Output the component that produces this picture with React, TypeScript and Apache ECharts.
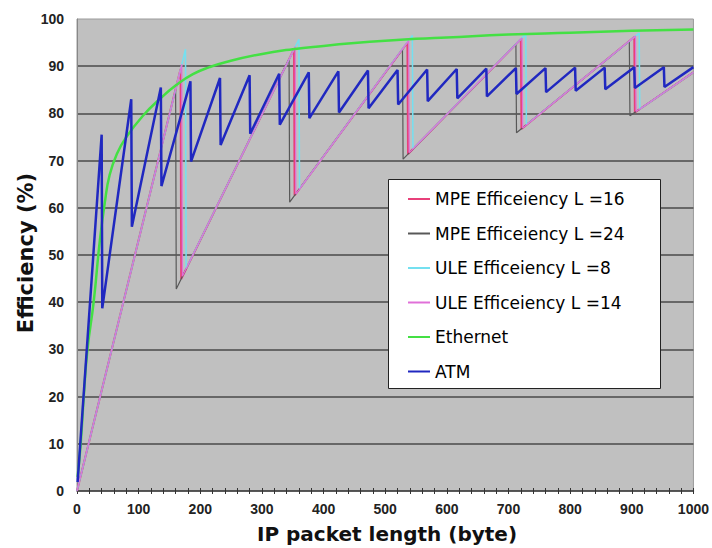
import React, { useEffect, useRef } from 'react';
import * as echarts from 'echarts';

// Series values: [IP packet length (byte), efficiency (%)]
const mpe16: [number, number][] = [
  [0, 0], [168, 89.4], [169, 44.9], [352, 93.6], [353, 62.6], [536, 95.0], [537, 71.4],
  [720, 95.7], [721, 76.7], [904, 96.2], [905, 80.2], [1000, 88.7],
];
const mpe24: [number, number][] = [
  [0, 0], [160, 85.1], [161, 42.8], [344, 91.5], [345, 61.2], [528, 93.6], [529, 70.3],
  [712, 94.7], [713, 75.9], [896, 95.3], [897, 79.5], [1000, 88.7],
];
const ule8: [number, number][] = [
  [0, 0], [176, 93.6], [177, 47.1], [360, 95.7], [361, 64.0], [544, 96.5], [545, 72.5],
  [728, 96.8], [729, 77.6], [912, 97.0], [913, 80.9], [1000, 88.7],
];
const ule14: [number, number][] = [
  [0, 0], [170, 90.4], [171, 45.5], [354, 94.1], [355, 62.9], [538, 95.4], [539, 71.7],
  [722, 96.0], [723, 76.9], [906, 96.4], [907, 80.4], [1000, 88.7],
];
const ethernet: [number, number][] = [
  [1, 3], [6, 10], [11, 20], [17, 30], [27, 40], [37, 53], [45, 61], [53, 67], [65, 71.5],
  [80, 75], [107, 79.5], [134, 83], [161, 86], [188, 88.3], [215, 89.8], [242, 90.9],
  [296, 92.5], [350, 93.6], [400, 94.3], [450, 94.9], [500, 95.4], [550, 95.8], [600, 96.1],
  [700, 96.7], [800, 97.1], [900, 97.5], [1000, 97.8],
];
const atm: [number, number][] = [
  [1, 1.9], [40, 75.5], [41, 38.7], [88, 83.0], [89, 56.0], [136, 85.5], [137, 64.6],
  [184, 86.8], [185, 69.8], [232, 87.5], [233, 73.3], [280, 88.1], [281, 75.7],
  [328, 88.4], [329, 77.6], [376, 88.7], [377, 79.0], [424, 88.9], [425, 80.2],
  [472, 89.1], [473, 81.1], [520, 89.2], [521, 81.9], [568, 89.3], [569, 82.6],
  [616, 89.4], [617, 83.2], [664, 89.5], [665, 83.6], [712, 89.6], [713, 84.1],
  [760, 89.6], [761, 84.5], [808, 89.7], [809, 84.8], [856, 89.7], [857, 85.1],
  [904, 89.8], [905, 85.4], [952, 89.8], [953, 85.6], [1000, 89.8],
];

const seriesNames = [
  'MPE Efficeiency L =16',
  'MPE Efficeiency L =24',
  'ULE Efficeiency L =8',
  'ULE Efficeiency L =14',
  'Ethernet',
  'ATM',
];
const xTitle = 'IP packet length (byte)';
const yTitle = 'Efficiency (%)';

export default function App() {
  const ref = useRef<HTMLDivElement>(null);
  useEffect(() => {
    const chart = echarts.init(ref.current!, null, { renderer: 'svg' });
    const tickFont = {
      fontFamily: 'Liberation Sans, Arial, sans-serif',
      fontWeight: 'bold' as const,
      fontSize: 14,
      color: '#222',
    };
    const mk = (name: string, data: [number, number][], color: string, width: number, smooth = false) => ({
      name,
      type: 'line',
      data,
      showSymbol: false,
      symbol: 'none',
      smooth,
      lineStyle: { color, width },
      itemStyle: { color },
    });
    chart.setOption({
      animation: false,
      backgroundColor: '#ffffff',
      grid: {
        left: 77,
        right: 16,
        top: 19,
        bottom: 57,
        show: true,
        backgroundColor: '#c0c0c0',
        borderColor: '#9a9a9a',
        borderWidth: 1,
      },
      xAxis: [
        {
          type: 'value',
          min: 0,
          max: 1000,
          interval: 20,
          position: 'bottom',
          axisLine: { show: true, lineStyle: { color: '#333', width: 1.5 } },
          axisTick: { show: true, length: 3, lineStyle: { color: '#333' } },
          axisLabel: {
            ...tickFont,
            margin: 11,
            formatter: (v: number) => (v % 100 === 0 ? String(v) : ''),
          },
          splitLine: { show: false },
        },
        {
          type: 'value',
          min: 0,
          max: 1000,
          interval: 20,
          position: 'bottom',
          axisLine: { show: false },
          axisTick: { show: true, inside: true, length: 3, lineStyle: { color: '#333' } },
          axisLabel: { show: false },
          splitLine: { show: false },
        },
      ],
      yAxis: {
        type: 'value',
        min: 0,
        max: 100,
        interval: 10,
        axisLine: { show: true, lineStyle: { color: '#888', width: 1 } },
        axisTick: { show: false },
        axisLabel: { ...tickFont, margin: 13 },
        splitLine: {
          show: true,
          showMinLine: false,
          showMaxLine: false,
          lineStyle: { color: '#4a4a4a', width: 1.6 },
        },
      },
      legend: {
        show: true,
        orient: 'vertical',
        left: 408,
        top: 189,
        padding: 0,
        itemGap: 14.5,
        itemWidth: 22,
        itemHeight: 2,
        icon: 'rect',
        z: 6,
        data: seriesNames,
        textStyle: {
          fontFamily: 'DejaVu Sans, sans-serif',
          fontSize: 17,
          color: '#000',
          lineHeight: 20,
        },
      },
      graphic: [
        {
          type: 'rect',
          z: 5,
          shape: { x: 388.5, y: 179.5, width: 272, height: 209 },
          style: { fill: '#ffffff', stroke: '#222', lineWidth: 1 },
        },
        {
          type: 'text',
          x: 387,
          y: 534,
          style: {
            text: xTitle,
            align: 'center',
            verticalAlign: 'middle',
            fontFamily: 'DejaVu Sans, sans-serif',
            fontWeight: 'bold',
            fontSize: 20,
            fill: '#111',
          },
        },
        {
          type: 'text',
          x: 26,
          y: 253,
          rotation: Math.PI / 2,
          style: {
            text: yTitle,
            align: 'center',
            verticalAlign: 'middle',
            fontFamily: 'DejaVu Sans, sans-serif',
            fontWeight: 'bold',
            fontSize: 21,
            fill: '#111',
          },
        },
      ],
      series: [
        mk(seriesNames[0], mpe16, '#e8407a', 2),
        mk(seriesNames[1], mpe24, '#585858', 1.2),
        mk(seriesNames[2], ule8, '#74e0f0', 1.5),
        mk(seriesNames[3], ule14, '#e070d8', 1.2),
        mk(seriesNames[4], ethernet, '#44e044', 2.5, true),
        mk(seriesNames[5], atm, '#2028c0', 2.5),
      ],
    });
    return () => chart.dispose();
  }, []);
  return (
    <div
      ref={ref}
      style={{ position: 'fixed', left: 0, top: 0, width: 712, height: 548, background: '#fff' }}
    />
  );
}
